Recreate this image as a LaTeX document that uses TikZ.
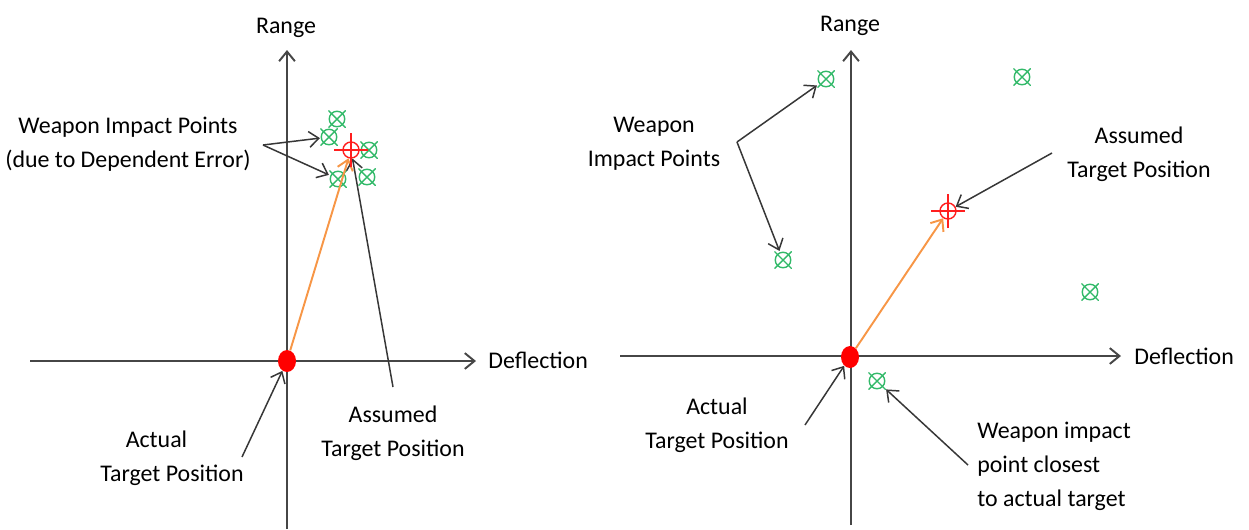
\documentclass[tikz,border=0pt]{standalone}
\usepackage{fontspec}
\setmainfont{Carlito}
\usetikzlibrary{arrows.meta, shapes.geometric}
\definecolor{axisgray}{RGB}{70,70,70}
\definecolor{callgray}{RGB}{55,55,55}
\definecolor{impactgreen}{RGB}{50,185,105}
\definecolor{aimred}{RGB}{255,30,30}
\definecolor{vecorange}{RGB}{247,150,70}
\tikzset{
  axis/.style={->, axisgray, line width=1.1pt},
  callout/.style={->, callgray, line width=0.85pt},
  vector/.style={->, vecorange, line width=1.1pt},
  lbl/.style={inner sep=0pt, font=\fontsize{13.6}{19.3}\selectfont, align=center},
  impact/.style={rectangle, minimum size=0.35cm, inner sep=0pt,
    path picture={
      \draw[impactgreen, line width=0.8pt] (path picture bounding box.center) circle (0.155cm);
      \draw[impactgreen, line width=0.8pt]
        (path picture bounding box.south west) -- (path picture bounding box.north east)
        (path picture bounding box.north west) -- (path picture bounding box.south east);}},
  aim/.style={circle, draw=aimred, line width=0.8pt, minimum size=0.32cm, inner sep=0pt},
  target/.style={ellipse, fill=red, minimum width=0.36cm, minimum height=0.44cm, inner sep=0pt}
}

\begin{document}
\begin{tikzpicture}[x=0.02cm, y=-0.02cm, >={Straight Barb[length=5.5pt, width=9pt]}]
  \useasboundingbox (0,0) rectangle (1249,529);
  % ---- left: dependent error ----
  % axes
  \coordinate (xL0) at (30,361);
  \coordinate (xL1) at (476,361);
  \coordinate (yL0) at (287,529);
  \coordinate (yL1) at (287,50);
  \draw[axis] (xL0) -- (xL1);
  \draw[axis] (yL0) -- (yL1);
  \node[lbl, anchor=base] (rangeL) at (286,33) {Range};
  \node[lbl, anchor=base west] (deflL) at (488,368) {Deflection};
  % impact points, clustered round the assumed position
  \foreach \n/\px/\py in {wL1/337/119, wL2/329/137, wL3/369/150, wL4/338/179, wL5/367/177}
    \node[impact] (\n) at (\px,\py) {};
  \node[aim] (aimL) at (351,150) {};
  \node[target] (tgtL) at (287,361) {};
  \draw[vector] (tgtL) -- (aimL);
  % labels
  \node[lbl] (wpL) at (128,144) {Weapon Impact Points\\(due to Dependent Error)};
  \node[lbl] (asL) at (393,433) {Assumed\\Target Position};
  \node[lbl] (acL) at (172,458) {Actual\hspace*{1.3em}\\Target Position};
  \coordinate (cWL) at (263,145);
  \coordinate (cAsL) at (393,387);
  \coordinate (cAcL) at (242,457);
  \draw[callout] (cWL) -- (wL2);
  \draw[callout] (cWL) -- (wL4);
  \draw[callout] (cAsL) -- (aimL);
  \draw[callout] (cAcL) -- (tgtL);

  % ---- right: independent error ----
  % axes
  \coordinate (xR0) at (620,356);
  \coordinate (xR1) at (1121,356);
  \coordinate (yR0) at (851,525);
  \coordinate (yR1) at (851,50);
  \draw[axis] (xR0) -- (xR1);
  \draw[axis] (yR0) -- (yR1);
  \node[lbl, anchor=base] (rangeR) at (850,31) {Range};
  \node[lbl, anchor=base west] (deflR) at (1134,364) {Deflection};
  % impact points, scattered
  \foreach \n/\px/\py in {wR1/826/79, wR2/1022/77, wR3/783/260, wR4/1090/292, wR5/877/381}
    \node[impact] (\n) at (\px,\py) {};
  \node[aim] (aimR) at (948,211) {};
  \node[target] (tgtR) at (850,357) {};
  \draw[vector] (tgtR) -- (aimR);
  % labels
  \node[lbl] (wpR) at (654,144) {Weapon\\Impact Points};
  \node[lbl] (asR) at (1139,154) {Assumed\\Target Position};
  \node[lbl] (acR) at (717,425) {Actual\\Target Position};
  \node[lbl, align=left, anchor=west] (clR) at (977,466) {Weapon impact\\point closest\\to actual target};
  \coordinate (cWR) at (737,142);
  \coordinate (cAsR) at (1052,153);
  \coordinate (cAcR) at (805,425);
  \coordinate (cClR) at (968,465);
  \draw[callout] (cWR) -- (wR1);
  \draw[callout] (cWR) -- (wR3);
  \draw[callout] (cAsR) -- (aimR);
  \draw[callout] (cAcR) -- (tgtR);
  \draw[callout] (cClR) -- (wR5);

  % cross hairs on the assumed positions
  \foreach \n in {aimL, aimR}
    \draw[aimred, line width=0.8pt]
      ([xshift=-0.34cm]\n.center) -- ([xshift=0.34cm]\n.center)
      ([yshift=-0.34cm]\n.center) -- ([yshift=0.34cm]\n.center);
\end{tikzpicture}
\end{document}
